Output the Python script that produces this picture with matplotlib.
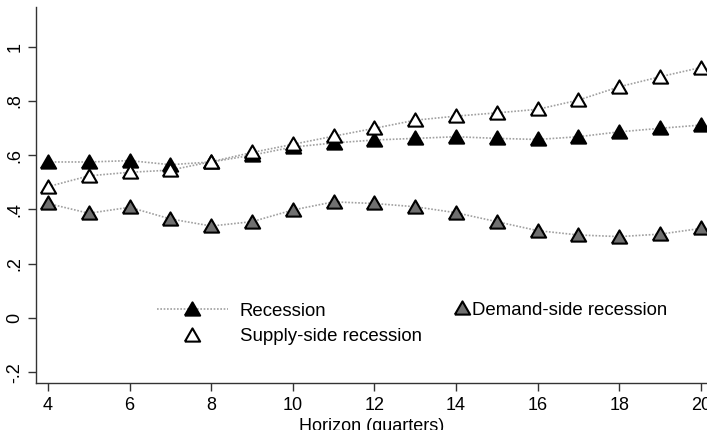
import matplotlib
matplotlib.use("Agg")
import matplotlib.pyplot as plt
from matplotlib.lines import Line2D

plt.rcParams["font.family"] = ["Liberation Sans", "DejaVu Sans"]

# Horizon in quarters and the three estimated series
horizon = [4, 5, 6, 7, 8, 9, 10, 11, 12, 13, 14, 15, 16, 17, 18, 19, 20]
recession = [0.575, 0.575, 0.58, 0.565, 0.575, 0.60, 0.63, 0.645, 0.656, 0.662,
             0.668, 0.662, 0.658, 0.668, 0.686, 0.699, 0.711]
supply_side = [0.484, 0.524, 0.537, 0.545, 0.576, 0.61, 0.64, 0.67, 0.699, 0.729,
               0.744, 0.756, 0.769, 0.803, 0.852, 0.889, 0.923]
demand_side = [0.422, 0.386, 0.408, 0.365, 0.339, 0.355, 0.398, 0.428, 0.422, 0.41,
               0.388, 0.355, 0.322, 0.306, 0.30, 0.309, 0.33]

yticks = [-0.2, 0, 0.2, 0.4, 0.6, 0.8, 1]
ytick_labels = ["-.2", "0", ".2", ".4", ".6", ".8", "1"]
xticks = [4, 6, 8, 10, 12, 14, 16, 18, 20]

# equilateral-looking triangle, Stata style
TRI = [(-1, -0.8), (1, -0.8), (0, 0.93), (-1, -0.8)]
MS = 11
MEW = 1.5
LINE = dict(color="#a0a0a0", lw=1.2, ls=(0, (1, 1)))
TICK_FS = 13
LEG_FS = 13.4

fig = plt.figure(figsize=(7.07, 4.30), dpi=100)
ax = fig.add_axes([0.051, 0.109, 0.969, 0.874])

ax.plot(horizon, recession, **LINE, zorder=1)
ax.plot(horizon, supply_side, **LINE, zorder=1)
ax.plot(horizon, demand_side, **LINE, zorder=1)

ax.plot(horizon, demand_side, ls="none", marker=TRI, ms=MS, mfc="#707070",
        mec="black", mew=MEW, zorder=3)
ax.plot(horizon, recession, ls="none", marker=TRI, ms=MS, mfc="black",
        mec="black", mew=MEW, zorder=3)
ax.plot(horizon, supply_side, ls="none", marker=TRI, ms=MS, mfc="white",
        mec="black", mew=MEW, zorder=4)

ax.set_xlim(3.706, 20.5)
ax.set_ylim(-0.24, 1.145)
ax.set_xticks(xticks)
ax.set_yticks(yticks)
ax.set_yticklabels(ytick_labels, rotation=90, va="center")
ax.tick_params(axis="both", direction="out", length=6, width=1,
               labelsize=TICK_FS, color="#333333")
ax.tick_params(axis="y", pad=3)
ax.tick_params(axis="x", pad=4)
for side in ("top", "right"):
    ax.spines[side].set_visible(False)
for side in ("left", "bottom"):
    ax.spines[side].set_color("#333333")
    ax.spines[side].set_linewidth(1)

ax.set_xlabel("Horizon (quarters)", fontsize=TICK_FS, labelpad=3)
ax.xaxis.label.set_position((0.4905, 0))

# legend: line+marker for recession, markers only for the split
h_rec = Line2D([], [], **LINE, marker=TRI, ms=MS, mfc="black", mec="black", mew=MEW)
h_sup = Line2D([], [], ls="none", marker=TRI, ms=MS, mfc="white", mec="black", mew=MEW)
h_dem = Line2D([], [], ls="none", marker=TRI, ms=MS, mfc="#707070", mec="black", mew=MEW)

leg1 = ax.legend([h_rec, h_sup], ["Recession", "Supply-side recession"],
                 loc="center left", bbox_to_anchor=(0.2221, 0.2465),
                 bbox_transform=fig.transFigure, frameon=False, fontsize=LEG_FS,
                 numpoints=1, handlelength=3.8, handletextpad=0.65,
                 labelspacing=0.45, borderpad=0, borderaxespad=0)
ax.add_artist(leg1)
ax.legend([h_dem], ["Demand-side recession"],
          loc="center left", bbox_to_anchor=(0.6403, 0.279),
          bbox_transform=fig.transFigure, frameon=False, fontsize=LEG_FS,
          numpoints=1, handlelength=1.0, handletextpad=0.05,
          borderpad=0, borderaxespad=0)

fig.savefig("out.png", dpi=100)
